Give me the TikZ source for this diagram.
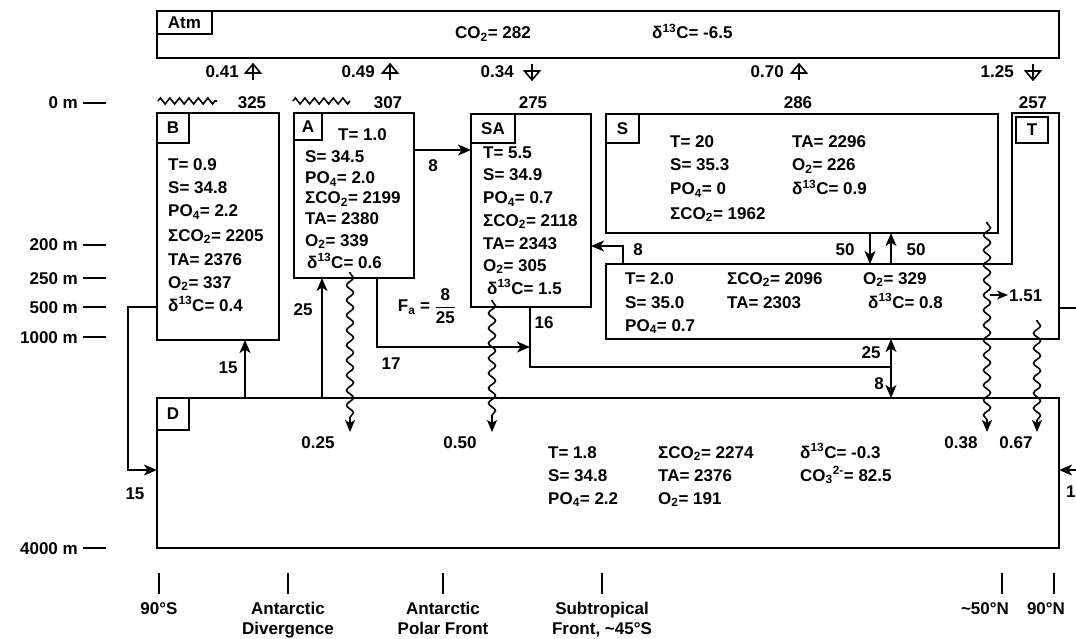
\documentclass[tikz,border=0pt]{standalone}
\usepackage{fontspec}
\setmainfont{Liberation Sans}
\usepackage{amsmath}
\usetikzlibrary{arrows.meta,decorations.pathmorphing}
\newcommand\fsz{\fontsize{17}{20}\selectfont\bfseries}
\newcommand\myd{δ\textsuperscript{13}C}
\newcommand\mysco{ΣCO\textsubscript{2}}
\newcommand\mypo{PO\textsubscript{4}}
\newcommand\myo{O\textsubscript{2}}
\newcommand\mydash{\hspace{5pt}\rule[5pt]{23pt}{1.8pt}}
\begin{document}
\begin{tikzpicture}[x=1pt,y=-1pt,
  box/.style={draw,line width=2.4pt,rectangle,inner sep=0pt,outer sep=0pt,anchor=north west},
  ghost/.style={rectangle,inner sep=0pt,outer sep=0pt,anchor=north west},
  tag/.style={draw,line width=1.6pt,rectangle,inner sep=0pt,outer sep=0pt,anchor=north west,font=\fsz},
  txt/.style={anchor=base west,inner sep=0pt,font=\fsz},
  lbl/.style={inner sep=0pt,font=\fsz},
  flow/.style={line width=1.8pt,-{Stealth[length=13pt,width=11pt,inset=3.5pt]}},
  plain/.style={line width=1.8pt},
  wavy/.style={line width=1.6pt,-{Stealth[length=12pt,width=10pt,inset=3pt]},decorate,
    decoration={snake,amplitude=3.5pt,segment length=15pt,pre length=1pt,post length=11pt}},
  ice/.style={line width=1.6pt,decorate,decoration={zigzag,amplitude=3pt,segment length=9.5pt}},
  tick/.style={line width=1.7pt},
  gasup/.pic={\draw[line width=1.6pt] (0,-8) -- (0,8);
              \draw[line width=1.6pt,line join=miter] (0,-8) -- (-7.5,1) -- (7.5,1) -- cycle;},
  gasdown/.pic={\draw[line width=1.6pt] (0,-8) -- (0,8);
              \draw[line width=1.6pt,line join=miter] (0,8) -- (-7.5,-1) -- (7.5,-1) -- cycle;}
]
\useasboundingbox (0,0) rectangle (1076,639);
\fill[white] (0,0) rectangle (1076,639);

% ---------- boxes ----------
\node[box,minimum width=902pt,minimum height=47pt] (Atm) at (157,11) {};
\node[tag,minimum width=55pt,minimum height=23pt] (AtmT) at (157,11) {Atm};
\node[box,minimum width=122pt,minimum height=227pt] (B) at (157,113) {};
\node[tag,minimum width=32pt,minimum height=30pt] (BT) at (157,113) {B};
\node[box,minimum width=120pt,minimum height=165pt] (A) at (294,113) {};
\node[tag,minimum width=28pt,minimum height=27pt] (AT) at (294,113) {A};
\node[box,minimum width=120pt,minimum height=193pt] (SA) at (471,114) {};
\node[tag,minimum width=44pt,minimum height=29pt] (SAT) at (471,114) {SA};
\node[box,minimum width=392pt,minimum height=119pt] (S) at (606,114) {};
\node[tag,minimum width=33pt,minimum height=29pt] (ST) at (606,114) {S};
\node[ghost,minimum width=47pt,minimum height=226pt] (T) at (1012,113) {};
\node[ghost,minimum width=453pt,minimum height=75pt] (L) at (606,264) {};
\draw[line width=2.4pt,line join=miter] (T.north west) -- (T.north east) -- (T.south east)
  -- (L.south west) -- (L.north west) -- (L.north west -| T.west) -- cycle;
\node[tag,minimum width=32pt,minimum height=26pt] (TT) at (1016,117) {T};
\node[box,minimum width=902pt,minimum height=150pt] (D) at (157,398) {};
\node[tag,minimum width=32pt,minimum height=32pt] (DT) at (157,398) {D};

% ---------- atmosphere ----------
\node[txt] (atm1) at (455,39) {CO\textsubscript{2}= 282};
\node[txt] (atm2) at (652,39) {\myd= -6.5};

% gas exchange
\pic at (253,72) {gasup};   \node[lbl,anchor=base east] (g1) at (239,78) {0.41};
\pic at (390,72) {gasup};   \node[lbl,anchor=base east] (g2) at (375,78) {0.49};
\pic at (532,72) {gasdown}; \node[lbl,anchor=base east] (g3) at (514,78) {0.34};
\pic at (799,72) {gasup};   \node[lbl,anchor=base east] (g4) at (784,78) {0.70};
\pic at (1033,72) {gasdown};\node[lbl,anchor=base east] (g5) at (1014,78) {1.25};

% surface labels
\draw[ice] (158,101) -- (217,101);
\draw[ice] (293,101) -- (350,101);
\node[lbl,anchor=base] (n325) at (252,109) {325};
\node[lbl,anchor=base] (n307) at (388,109) {307};
\node[lbl,anchor=base] (n275) at (533,109) {275};
\node[lbl,anchor=base] (n286) at (798,109) {286};
\node[lbl,anchor=base] (n257) at (1033,109) {257};

% ---------- box contents ----------
% B
\node[txt] at (168,171) {T= 0.9};
\node[txt] at (168,194) {S= 34.8};
\node[txt] at (168,217) {\mypo= 2.2};
\node[txt] at (168,241) {\mysco= 2205};
\node[txt] at (168,265) {TA= 2376};
\node[txt] at (168,288) {\myo= 337};
\node[txt] at (168,311) {\myd= 0.4};
% A
\node[txt] at (338,141) {T= 1.0};
\node[txt] at (305,163) {S= 34.5};
\node[txt] at (305,184) {\mypo= 2.0};
\node[txt] at (305,204) {\mysco= 2199};
\node[txt] at (305,225) {TA= 2380};
\node[txt] at (305,246) {\myo= 339};
\node[txt] at (307,268) {\myd= 0.6};
% SA
\node[txt] at (483,159) {T= 5.5};
\node[txt] at (483,181) {S= 34.9};
\node[txt] at (483,204) {\mypo= 0.7};
\node[txt] at (483,226) {\mysco= 2118};
\node[txt] at (483,249) {TA= 2343};
\node[txt] at (483,271) {\myo= 305};
\node[txt] at (487,294) {\myd= 1.5};
% S
\node[txt] at (670,148) {T= 20};
\node[txt] at (670,171) {S= 35.3};
\node[txt] at (670,195) {\mypo= 0};
\node[txt] at (670,219) {\mysco= 1962};
\node[txt] at (792,148) {TA= 2296};
\node[txt] at (792,171) {\myo= 226};
\node[txt] at (792,195) {\myd= 0.9};
% lower thermocline
\node[txt] at (625,284) {T= 2.0};
\node[txt] at (625,308) {S= 35.0};
\node[txt] at (625,331) {\mypo= 0.7};
\node[txt] at (727,284) {\mysco= 2096};
\node[txt] at (727,308) {TA= 2303};
\node[txt] at (863,284) {\myo= 329};
\node[txt] at (868,308) {\myd= 0.8};
% D
\node[txt] at (548,458) {T= 1.8};
\node[txt] at (548,481) {S= 34.8};
\node[txt] at (548,504) {\mypo= 2.2};
\node[txt] at (658,458) {\mysco= 2274};
\node[txt] at (658,481) {TA= 2376};
\node[txt] at (658,504) {\myo= 191};
\node[txt] at (800,458) {\myd= -0.3};
\node[txt] at (800,481) {CO\textsubscript{3}\textsuperscript{2-}= 82.5};

% ---------- helper coordinates ----------
\coordinate (c15) at (245,0);
\coordinate (c25) at (322,0);
\coordinate (c17) at (377,0);
\coordinate (c16) at (530,0);
\coordinate (c8s) at (623,0);
\coordinate (c50a) at (870,0);
\coordinate (c50b) at (891,0);
\coordinate (xL) at (128,0);
\coordinate (xR) at (1076,0);
\coordinate (rA) at (0,150);
\coordinate (r17) at (0,347);
\coordinate (r16) at (0,367);
\coordinate (r8) at (0,246);
\coordinate (rB) at (0,307);
\coordinate (rD) at (0,470);
\coordinate (rR) at (0,308);

% ---------- flows ----------
\draw[flow] (c15 |- D.north) -- (c15 |- B.south);
\node[lbl] at (228,368) {15};
\draw[flow] (rB -| B.west) -- (xL |- rB) -- (xL |- rD) -- (rD -| D.west);
\node[lbl] at (135,494) {15};
\draw[flow] (c25 |- D.north) -- (c25 |- A.south);
\node[lbl] at (303,310) {25};
\draw[flow] (rA -| A.east) -- (rA -| SA.west);
\node[lbl] at (433,166) {8};
\draw[flow] (c17 |- A.south) |- (c16 |- r17);
\node[lbl] at (391,364) {17};
\node[lbl] (Fa) at (427,306) {F\textsubscript{a} = $\dfrac{\text{8}}{\text{25}}$};
\draw[plain] (c16 |- SA.south) |- (c50b |- r16);
\node[lbl] at (544,323) {16};
\draw[flow] (c50b |- r16) -- (c50b |- L.south);
\node[lbl] at (871,353) {25};
\draw[flow] (c50b |- r16) -- (c50b |- D.north);
\node[lbl] at (879,384) {8};
\draw[flow] (c50a |- S.south) -- (c50a |- L.north);
\draw[flow] (c50b |- L.north) -- (c50b |- S.south);
\node[lbl] at (845,250) {50};
\node[lbl] at (916,250) {50};
\draw[flow] (c8s |- L.north) |- (r8 -| SA.east);
\node[lbl] at (638,250) {8};
\draw[plain] (rR -| T.east) -- (xR |- rR);
\draw[flow] (xR |- rD) -- (rD -| D.east);
\node[lbl,anchor=west] at (1066,492) {17};

% particle fluxes
\coordinate (w1s) at (350,272); \coordinate (w1e) at (350,432);
\coordinate (w2s) at (492,300); \coordinate (w2e) at (492,432);
\coordinate (w3s) at (987,222); \coordinate (w3e) at (987,432);
\coordinate (w4s) at (1037,320); \coordinate (w4e) at (1037,432);
\draw[wavy] (w1s) -- (w1e);
\draw[wavy] (w2s) -- (w2e);
\draw[wavy] (w3s) -- (w3e);
\draw[wavy] (w4s) -- (w4e);
\node[lbl] at (318,443) {0.25};
\node[lbl] at (460,443) {0.50};
\node[lbl] at (961,443) {0.38};
\node[lbl] at (1016,443) {0.67};
\coordinate (a1s) at (990,295); \coordinate (a1e) at (1008,295);
\draw[line width=1.7pt,-{Stealth[length=11pt,width=9pt,inset=3pt]}] (a1s) -- (a1e);
\node[lbl,anchor=west] at (1009,296) {1.51};

% ---------- depth axis ----------
\node[lbl,anchor=base east] at (106,109) {0 m\mydash};
\node[lbl,anchor=base east] at (106,251) {200 m\mydash};
\node[lbl,anchor=base east] at (106,284) {250 m\mydash};
\node[lbl,anchor=base east] at (106,313) {500 m\mydash};
\node[lbl,anchor=base east] at (106,343) {1000 m\mydash};
\node[lbl,anchor=base east] at (106,554) {4000 m\mydash};

% ---------- latitude axis ----------
\foreach \x in {159,288,443,602,1002,1054} \draw[tick] (\x,573) -- (\x,594);
\node[lbl,anchor=base] at (159,614) {90°S};
\node[lbl,anchor=base,align=center] at (288,634) {Antarctic\\Divergence};
\node[lbl,anchor=base,align=center] at (443,634) {Antarctic\\Polar Front};
\node[lbl,anchor=base,align=center] at (602,634) {Subtropical\\Front, \textasciitilde45°S};
\node[lbl,anchor=base] at (985,614) {\textasciitilde50°N};
\node[lbl,anchor=base] at (1046,614) {90°N};
\end{tikzpicture}
\end{document}
